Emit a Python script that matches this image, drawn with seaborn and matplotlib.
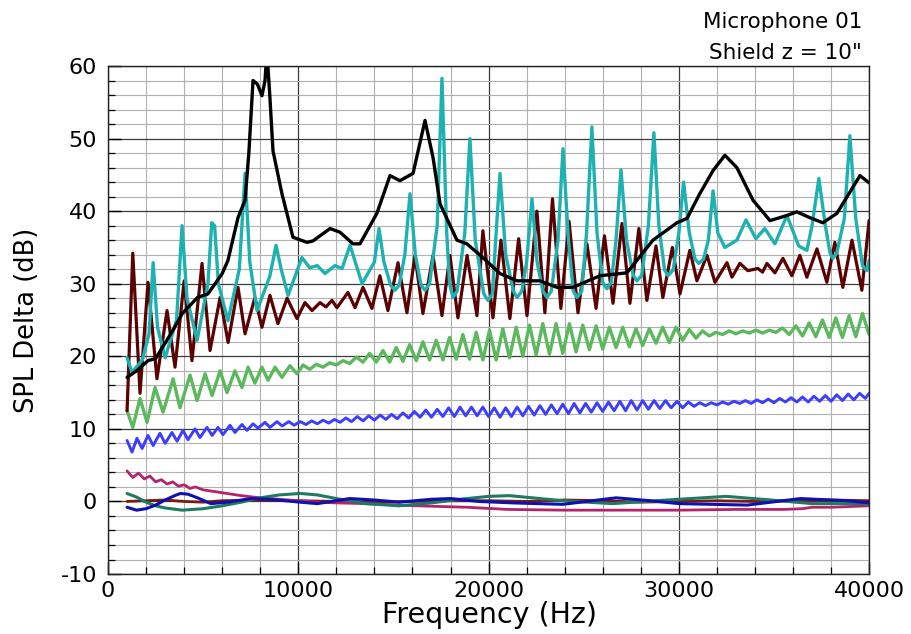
import numpy as np
import pandas as pd
import matplotlib.pyplot as plt
import seaborn as sns

# ---- data (frequency in Hz, SPL delta in dB) ----
black_f = [1000, 1500, 2100, 2500, 3000, 3500, 3900, 4700, 5250, 6000, 6300, 6830, 7200, 7400, 7620,
           7850, 8090, 8250, 8350, 8500, 8670, 9140, 9720, 10460, 10770, 11670, 12190, 12870, 13240,
           14130, 14820, 15340, 16030, 16660, 17080, 17450, 18340, 18860, 19700, 20600, 21500, 22700,
           23600, 24440, 25850, 27270, 28640, 29900, 30430, 31100, 31800, 32420, 33050, 33900, 34790,
           35680, 36200, 36890, 37570, 38310, 39520, 40000]
black_v = [17.1, 18.0, 19.4, 19.7, 21.8, 24.0, 25.9, 28.1, 28.6, 31.4, 33.2, 39.1, 41.5, 48.0, 58.0,
           57.5, 55.9, 58.0, 62.0, 56.0, 48.3, 42.4, 36.4, 35.7, 35.9, 37.6, 37.1, 35.5, 35.5,
           39.7, 44.9, 44.2, 45.2, 52.5, 47.4, 41.0, 36.0, 35.5, 33.6, 31.4, 30.4, 30.4,
           29.5, 29.5, 31.1, 31.5, 36.0, 38.4, 39.0, 42.4, 45.6, 47.7, 46.0, 41.5, 38.7,
           39.4, 39.9, 39.1, 38.4, 39.7, 44.9, 43.9]

cyan_f = [1000, 1260, 1800, 2150, 2370, 2600, 3000, 3600, 3890, 4150, 4680, 5250, 5450, 5600, 5800,
          6300, 6900, 7200, 7450, 7830, 8500, 8830, 9100, 9460, 10190, 10600, 11000, 11400, 11930,
          12300, 12720, 13350, 14000, 14240, 14500, 14850, 15080, 15300, 15600, 15870, 16150, 16450,
          16660, 16900, 17300, 17550, 17800, 17950, 18130, 18350, 18750, 19020, 19300, 19750, 19970,
          20200, 20350, 20600, 20900, 21300, 21500, 21750, 22000, 22280, 22550, 22850, 23070, 23300,
          23650, 23910, 24200, 24450, 24650, 24900, 25150, 25430, 25700, 26000, 26220, 26450, 26700,
          26960, 27250, 27600, 27800, 28050, 28400, 28690, 28950, 29250, 29430, 29700, 30000, 30250,
          30550, 30850, 31050, 31300, 31550, 31800, 32050, 32420, 33050, 33530, 34050, 34520, 35050,
          35680, 36300, 36730, 37000, 37360, 37700, 37950, 38100, 38300, 38700, 38990, 39300, 39650,
          39880, 40000]
cyan_v = [19.8, 17.8, 19.5, 23.0, 32.9, 24.0, 19.8, 25.0, 38.0, 28.0, 22.2, 30.0, 38.4, 38.0, 30.0,
          24.9, 32.0, 45.2, 33.0, 26.3, 31.0, 35.3, 32.0, 28.4, 33.6, 32.2, 32.5, 31.4, 32.5,
          32.1, 35.3, 30.0, 33.0, 37.6, 33.0, 29.8, 29.1, 29.8, 34.0, 42.4, 34.0, 29.8,
          29.1, 30.0, 38.0, 58.3, 37.0, 30.0, 28.1, 29.0, 37.0, 50.0, 36.0, 28.6, 27.7,
          28.6, 35.0, 45.2, 34.0, 29.0, 28.1, 29.0, 33.0, 41.7, 33.0, 29.0, 28.1, 29.0,
          36.0, 48.6, 36.0, 29.0, 28.1, 29.0, 37.0, 51.6, 37.0, 30.2, 29.3, 30.2, 36.0,
          45.7, 36.0, 31.2, 30.4, 31.2, 38.0, 50.8, 38.0, 31.9, 31.1, 31.9, 37.0, 44.0,
          37.0, 33.4, 32.8, 33.4, 36.0, 42.8, 37.0, 35.0, 36.0, 38.8, 36.2, 37.6, 35.5,
          39.4, 35.2, 34.6, 38.0, 44.5, 38.0, 34.2, 33.5, 34.2, 39.0, 50.4, 39.0, 32.5,
          31.8, 33.2]

maroon_f = [1000, 1300, 1680, 2100, 2570, 3100, 3520, 4000, 4410, 4940, 5360, 5890, 6310, 6830, 7200,
            7720, 8090, 8510, 8930, 9410, 9930, 10350, 10720, 11140, 11450, 11770, 12030, 12610, 12980,
            13400, 13870, 14290, 14710, 15240, 15710, 16130, 16550, 17080, 17550, 17970, 18390, 18870,
            19390, 19700, 20230, 20650, 21120, 21580, 22020, 22540, 22960, 23360, 23800, 24230, 24700,
            25170, 25650, 26090, 26540, 27010, 27430, 27900, 28320, 28800, 29160, 29660, 30060, 30580,
            30950, 31480, 31900, 32530, 32790, 33210, 33630, 34160, 34400, 34630, 35050, 35470, 35940,
            36360, 36730, 37260, 37780, 38200, 38620, 39100, 39620, 40000]
maroon_v = [12.5, 34.2, 14.9, 30.2, 16.9, 26.3, 18.5, 30.4, 19.4, 32.8, 20.8, 28.1, 21.9, 29.5, 23.1,
            28.1, 24.0, 28.4, 24.5, 28.0, 25.2, 27.4, 26.3, 27.4, 26.8, 27.7, 26.7, 28.8, 26.7,
            29.5, 26.6, 31.1, 26.3, 32.9, 26.0, 33.9, 25.9, 33.9, 25.6, 33.9, 25.3, 33.9,
            25.6, 37.3, 25.3, 36.0, 25.2, 36.2, 25.6, 40.0, 26.0, 41.7, 26.6, 38.6, 26.0,
            35.5, 26.6, 36.6, 27.3, 38.3, 27.3, 37.6, 27.7, 35.2, 28.1, 35.0, 28.6, 34.6,
            30.4, 33.9, 30.2, 32.9, 30.9, 32.8, 31.8, 32.1, 31.6, 32.8, 31.5, 33.5, 31.1,
            33.9, 30.9, 34.8, 30.2, 35.7, 29.5, 36.0, 29.1, 38.7]

green_f = [1000, 1300, 1680, 2050, 2470, 2890, 3420, 3780, 4310, 4680, 5100, 5470, 5890, 6250, 6670,
           7040, 7360, 7720, 8090, 8410, 8780, 9140, 9560, 9930, 10250, 10600, 10950, 11300, 11650,
           12000, 12350, 12700, 13050, 13400, 13750, 14100, 14450, 14800, 15150, 15500, 15850, 16200,
           16550, 16900, 17250, 17600, 17950, 18300, 18650, 19000, 19350, 19700, 20050, 20400, 20750,
           21100, 21450, 21800, 22150, 22500, 22850, 23200, 23550, 23900, 24250, 24600, 24950, 25300,
           25650, 26000, 26350, 26700, 27050, 27400, 27750, 28100, 28450, 28800, 29150, 29500, 29850,
           30200, 30550, 30900, 31250, 31600, 31950, 32300, 32650, 33000, 33350, 33700, 34050, 34400,
           34750, 35100, 35450, 35800, 36150, 36500, 36850, 37200, 37550, 37900, 38250, 38600, 38950,
           39300, 39650, 40000]
green_v = [12.5, 10.2, 14.2, 10.9, 15.7, 12.3, 16.9, 12.9, 17.4, 13.9, 17.6, 14.6, 18.0, 15.0, 18.0,
           15.7, 18.5, 16.3, 18.5, 16.7, 18.5, 17.1, 18.7, 17.6, 18.8, 18.2, 18.9, 18.5, 19.1,
           18.8, 19.4, 19.0, 19.9, 19.2, 20.4, 19.2, 20.8, 19.2, 21.2, 19.3, 21.6, 19.4,
           22.0, 19.5, 22.2, 19.5, 22.6, 19.6, 23.0, 19.6, 23.3, 19.5, 23.6, 19.5, 23.8,
           19.8, 24.0, 20.0, 24.3, 20.2, 24.5, 20.3, 24.5, 20.4, 24.5, 20.6, 24.3, 20.9,
           24.2, 21.0, 24.0, 21.2, 24.0, 21.3, 23.8, 21.5, 23.8, 21.8, 24.0, 21.9, 24.0,
           22.2, 23.7, 22.5, 23.5, 22.8, 23.3, 23.0, 23.5, 23.1, 23.5, 23.2, 23.6, 23.2,
           23.6, 23.3, 23.9, 23.0, 24.2, 22.8, 24.6, 22.7, 25.0, 22.6, 25.3, 22.6, 25.6,
           22.7, 25.9, 23.0]

blue_f = [1000, 1260, 1520, 1790, 2100, 2370, 2730, 3000, 3360, 3630, 3940, 4200, 4570, 4830, 5200,
          5470, 5780, 6040, 6410, 6670, 7040, 7300, 7620, 7880, 8250, 8510, 8880, 9150, 9500, 9780,
          10100, 10400, 10700, 11000, 11300, 11600, 11900, 12200, 12500, 12800, 13100, 13400, 13700,
          14000, 14300, 14600, 14900, 15200, 15500, 15800, 16100, 16400, 16700, 17000, 17300, 17600,
          17900, 18200, 18500, 18800, 19100, 19400, 19700, 20000, 20300, 20600, 20900, 21200, 21500,
          21800, 22100, 22400, 22700, 23000, 23300, 23600, 23900, 24200, 24500, 24800, 25100, 25400,
          25700, 26000, 26300, 26600, 26900, 27200, 27500, 27800, 28100, 28400, 28700, 29000, 29300,
          29600, 29900, 30200, 30500, 30800, 31100, 31400, 31700, 32000, 32300, 32600, 32900, 33200,
          33500, 33800, 34100, 34400, 34700, 35000, 35300, 35600, 35900, 36200, 36500, 36800, 37100,
          37400, 37700, 38000, 38300, 38600, 38900, 39200, 39500, 39800, 40000]
blue_v = [8.4, 6.8, 8.7, 7.3, 9.1, 7.7, 9.4, 8.0, 9.5, 8.3, 9.8, 8.5, 10.0, 8.8, 10.2,
          9.1, 10.2, 9.2, 10.5, 9.5, 10.6, 9.8, 10.7, 10.1, 10.9, 10.2, 11.0, 10.4, 11.0, 10.5,
          11.0, 10.6, 11.1, 10.7, 11.2, 10.8, 11.3, 10.9, 11.5, 11.0, 11.7, 11.1, 11.8,
          11.2, 11.9, 11.3, 12.0, 11.4, 12.2, 11.5, 12.4, 11.6, 12.6, 11.6, 12.7, 11.7,
          12.9, 11.7, 13.0, 11.8, 13.0, 11.8, 13.0, 11.7, 12.9, 11.6, 12.9, 11.7, 13.0,
          11.8, 13.1, 11.9, 13.2, 12.0, 13.3, 12.1, 13.4, 12.1, 13.5, 12.2, 13.5, 12.3,
          13.6, 12.4, 13.7, 12.5, 13.8, 12.5, 13.9, 12.6, 13.9, 12.7, 13.9, 12.8, 13.9,
          12.9, 13.8, 12.9, 13.7, 13.1, 13.6, 13.2, 13.6, 13.3, 13.7, 13.4, 13.8, 13.5,
          13.9, 13.5, 14.0, 13.6, 14.1, 13.6, 14.2, 13.7, 14.3, 13.7, 14.4, 13.7, 14.5,
          13.8, 14.6, 13.8, 14.7, 13.9, 14.8, 14.0, 14.9, 14.2, 14.9]

magenta_f = [1000, 1300, 1600, 1900, 2200, 2500, 2800, 3100, 3400, 3700, 4000, 4300, 4600, 5000, 6000,
             7000, 8000, 9000, 10000, 11000, 12000, 13600, 16200, 18860, 21000, 24000, 27000, 30000,
             33000, 35500, 36500, 37000, 38000, 40000]
magenta_v = [4.2, 3.3, 3.9, 3.1, 3.5, 2.7, 3.0, 2.4, 2.7, 2.1, 2.3, 1.8, 2.0, 1.6, 1.2,
             0.8, 0.5, 0.3, 0.1, -0.1, -0.2, -0.3, -0.6, -0.8, -1.1, -1.2, -1.2, -1.2,
             -1.1, -1.1, -1.0, -0.8, -0.8, -0.6]

navy_f = [1000, 1500, 2000, 2500, 3000, 3500, 3800, 4200, 4700, 5400, 6300, 7500, 8500, 10100, 11000,
          12700, 14000, 15300, 17000, 18000, 19500, 21300, 23900, 26700, 28500, 30000, 33600, 36400,
          38800, 40000]
navy_v = [-0.8, -1.2, -1.0, -0.5, 0.2, 0.8, 1.1, 1.0, 0.5, -0.3, -0.1, 0.4, 0.3, -0.1, -0.3,
          0.4, 0.2, -0.1, 0.3, 0.4, 0.0, -0.2, -0.4, 0.5, 0.1, -0.3, -0.5, 0.4, 0.1, -0.2]

teal_f = [1000, 1500, 2000, 2500, 3000, 3900, 5000, 6000, 7000, 8000, 9000, 10100, 11000, 12000, 13500,
          15300, 17000, 18500, 20000, 21100, 23900, 26500, 30000, 32500, 35300, 37000, 40000]
teal_v = [1.1, 0.6, -0.1, -0.6, -0.9, -1.2, -1.0, -0.6, -0.1, 0.5, 0.9, 1.1, 0.9, 0.4, -0.3,
          -0.6, -0.2, 0.3, 0.7, 0.8, 0.1, -0.3, 0.3, 0.7, 0.1, -0.3, -0.3]

brown_f = [1000, 2000, 3000, 4000, 5000, 6000, 8000, 10000, 12000, 14000, 16000, 18000, 20000, 22000,
           24000, 26000, 28000, 30000, 32000, 34000, 36000, 38000, 40000]
brown_v = [0.0, 0.1, 0.2, 0.0, -0.1, 0.1, 0.2, 0.1, 0.0, -0.1, 0.0, 0.1, 0.1, 0.0,
           0.2, 0.1, -0.1, 0.0, 0.1, 0.0, 0.1, 0.2, 0.1]

# drawing order: first is at the bottom
series = [
    (brown_f, brown_v, '#7a1a10', 2.0),
    (magenta_f, magenta_v, '#b3246a', 2.0),
    (teal_f, teal_v, '#1f7a62', 2.2),
    (navy_f, navy_v, '#1010b0', 2.2),
    (blue_f, blue_v, '#3d3dff', 2.1),
    (green_f, green_v, '#5cb85c', 2.4),
    (maroon_f, maroon_v, '#5a0000', 2.3),
    (cyan_f, cyan_v, '#1eb1b1', 2.4),
    (black_f, black_v, '#000000', 2.4),
]

sns.set_style('white')
plt.rcParams['font.family'] = ['DejaVu Sans']
plt.rcParams['axes.unicode_minus'] = False
plt.rcParams['text.color'] = 'black'
plt.rcParams['xtick.color'] = 'black'
plt.rcParams['ytick.color'] = 'black'

fig = plt.figure(figsize=(9.11, 6.34), dpi=100)
ax = fig.add_axes([0.1186, 0.0946, 0.8354, 0.8013])

for f, v, c, lw in series:
    sns.lineplot(x=f, y=v, color=c, linewidth=lw, sort=False, estimator=None, ax=ax)

ax.set_xlim(0, 40000)
ax.set_ylim(-10, 60)
ax.set_xticks(np.arange(0, 40001, 10000))
ax.set_xticks(np.arange(0, 40001, 2000), minor=True)
ax.set_yticks(np.arange(-10, 61, 10))
ax.set_yticks(np.arange(-10, 61, 2), minor=True)
ax.set_xticklabels(['0', '10000', '20000', '30000', '40000'])

ax.set_axisbelow(True)
ax.grid(which='major', color='#3a3a3a', linewidth=0.9)
ax.grid(which='minor', color='#b0b0b0', linewidth=0.8)

ax.tick_params(which='major', direction='in', length=9, width=1.0, labelsize=16, pad=5,
               bottom=True, left=True, top=False, right=False, colors='black')
ax.tick_params(axis='y', which='major', pad=8)
ax.tick_params(which='minor', direction='in', length=5, width=0.9,
               bottom=True, left=True, top=False, right=False)
for s in ax.spines.values():
    s.set_color('#222222')
    s.set_linewidth(1.0)

fig.text(489 / 911, 1 - 623 / 634, 'Frequency (Hz)', ha='center', va='baseline', fontsize=20.5,
         color='black')
fig.text(27 / 911, 1 - 320 / 634, 'SPL Delta (dB)', ha='center', va='center', rotation=90,
         fontsize=18.5, color='black')

fig.text(862 / 911, 1 - 28 / 634, 'Microphone 01', ha='right', va='baseline', fontsize=15.5,
         color='black')
fig.text(862 / 911, 1 - 59 / 634, 'Shield z = 10"', ha='right', va='baseline', fontsize=15.5,
         color='black')

fig.savefig('out.png', dpi=100)
